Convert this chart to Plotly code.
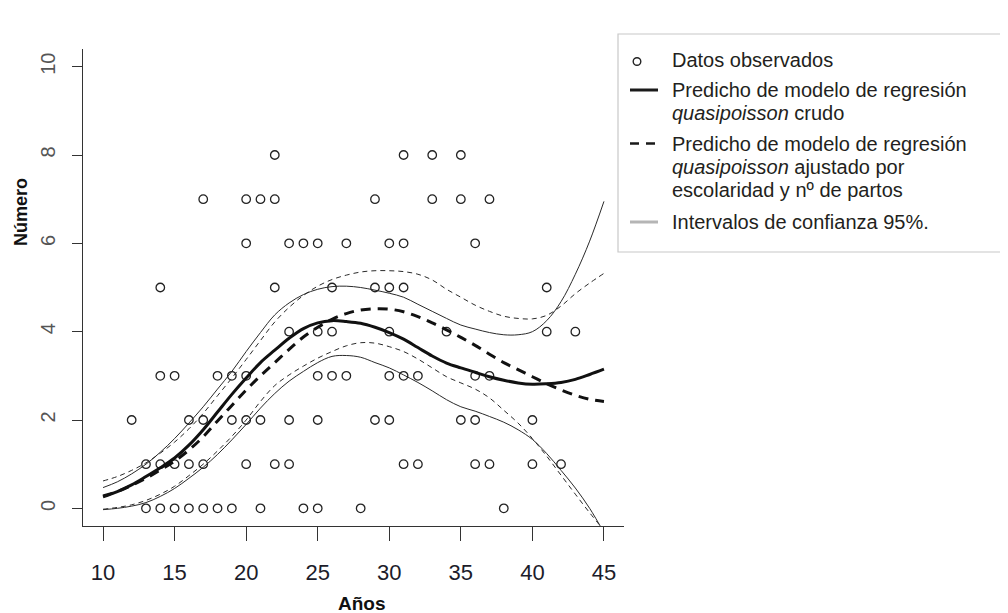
import plotly.graph_objects as go

# ---------------- data ----------------
edad_obs = [12, 13, 13, 14, 14, 14, 14, 15, 15, 15, 16, 16, 16, 17, 17, 17, 17,
            18, 18, 19, 19, 19, 20, 20, 20, 20, 20, 21, 21, 21, 22, 22, 22, 22,
            23, 23, 23, 23, 24, 24, 25, 25, 25, 25, 25, 26, 26, 26, 27, 27, 28,
            29, 29, 29, 30, 30, 30, 30, 30, 31, 31, 31, 31, 31, 32, 32, 33, 33,
            34, 35, 35, 35, 36, 36, 36, 36, 37, 37, 37, 38, 40, 40, 41, 41, 42, 43]
numero_obs = [2, 0, 1, 0, 1, 3, 5, 0, 1, 3, 0, 1, 2, 0, 1, 2, 7,
              0, 3, 0, 2, 3, 1, 2, 3, 6, 7, 0, 2, 7, 1, 5, 7, 8,
              1, 2, 4, 6, 0, 6, 0, 2, 3, 4, 6, 3, 4, 5, 3, 6, 0,
              2, 5, 7, 2, 3, 4, 5, 6, 1, 3, 5, 6, 8, 1, 3, 7, 8,
              4, 2, 7, 8, 1, 2, 3, 6, 1, 3, 7, 0, 1, 2, 4, 5, 1, 4]

edad_curva = list(range(10, 46))
pred_crudo = [0.26, 0.38, 0.53, 0.72, 0.92, 1.14, 1.43, 1.78, 2.18, 2.58,
              2.95, 3.30, 3.58, 3.85, 4.07, 4.20, 4.25, 4.23, 4.19, 4.10,
              3.98, 3.83, 3.64, 3.45, 3.29, 3.18, 3.08, 2.98, 2.90, 2.84,
              2.81, 2.82, 2.85, 2.92, 3.03, 3.15]
ic_crudo_sup = [0.47, 0.60, 0.78, 1.00, 1.27, 1.58, 1.93, 2.30, 2.70, 3.10,
                3.55, 3.98, 4.38, 4.65, 4.84, 4.96, 5.02, 5.03, 5.00, 4.94,
                4.87, 4.78, 4.62, 4.46, 4.30, 4.15, 4.06, 3.98, 3.93, 3.93,
                4.00, 4.25, 4.68, 5.30, 6.05, 6.95]
ic_crudo_inf = [-0.03, 0.00, 0.05, 0.13, 0.27, 0.45, 0.68, 0.93, 1.22, 1.55,
                1.90, 2.27, 2.60, 2.88, 3.10, 3.30, 3.44, 3.46, 3.42, 3.30,
                3.18, 3.02, 2.85, 2.66, 2.46, 2.30, 2.20, 2.08, 1.95, 1.78,
                1.56, 1.24, 0.86, 0.46, 0.00, -0.55]
pred_ajustado = [0.28, 0.38, 0.52, 0.68, 0.87, 1.07, 1.32, 1.62, 1.98, 2.33,
                 2.68, 3.00, 3.30, 3.60, 3.88, 4.10, 4.28, 4.41, 4.49, 4.52,
                 4.51, 4.45, 4.34, 4.20, 4.04, 3.87, 3.69, 3.49, 3.30, 3.14,
                 2.98, 2.82, 2.68, 2.56, 2.47, 2.42]
ic_ajust_sup = [0.62, 0.72, 0.86, 1.03, 1.25, 1.50, 1.80, 2.15, 2.55, 2.95,
                3.37, 3.80, 4.22, 4.55, 4.82, 5.03, 5.18, 5.28, 5.35, 5.38,
                5.38, 5.36, 5.30, 5.17, 4.96, 4.78, 4.60, 4.46, 4.35, 4.30,
                4.29, 4.37, 4.58, 4.86, 5.10, 5.32]
ic_ajust_inf = [-0.02, 0.02, 0.08, 0.18, 0.32, 0.50, 0.74, 1.00, 1.30, 1.63,
                2.00, 2.42, 2.78, 3.02, 3.22, 3.40, 3.55, 3.68, 3.75, 3.74,
                3.66, 3.55, 3.38, 3.18, 2.98, 2.84, 2.70, 2.50, 2.22, 1.93,
                1.58, 1.18, 0.75, 0.32, -0.10, -0.50]

x_ticks = [10, 15, 20, 25, 30, 35, 40, 45]
y_ticks = [0, 2, 4, 6, 8, 10]

leyenda_lineas = ["Datos observados",
                  "Predicho de modelo de regresión",
                  "<i>quasipoisson</i> crudo",
                  "Predicho de modelo de regresión",
                  "<i>quasipoisson</i> ajustado por",
                  "escolaridad y nº de partos",
                  "Intervalos de confianza 95%."]

# ---------------- geometry helpers (plot area in page pixels) ----------------
PL, PR, PT, PB = 83, 624, 49, 526          # plot area edges on the page
W_PLOT, H_PLOT = PR - PL, PB - PT


def px(xp):
    return (xp - PL) / W_PLOT


def py(yp):
    return (PB - yp) / H_PLOT


# ---------------- figure ----------------
fig = go.Figure()

thin = dict(color="#2a2a2a", width=1, shape="spline", smoothing=1)
fig.add_trace(go.Scatter(x=edad_curva, y=ic_crudo_sup, mode="lines", line=thin,
                         showlegend=False, hoverinfo="skip"))
fig.add_trace(go.Scatter(x=edad_curva, y=ic_crudo_inf, mode="lines", line=thin,
                         showlegend=False, hoverinfo="skip"))
fig.add_trace(go.Scatter(x=edad_curva, y=ic_ajust_sup, mode="lines",
                         line=dict(thin, dash="5px,4px"),
                         showlegend=False, hoverinfo="skip"))
fig.add_trace(go.Scatter(x=edad_curva, y=ic_ajust_inf, mode="lines",
                         line=dict(thin, dash="5px,4px"),
                         showlegend=False, hoverinfo="skip"))

fig.add_trace(go.Scatter(x=edad_obs, y=numero_obs, mode="markers",
                         name="Datos observados", showlegend=False,
                         marker=dict(symbol="circle-open", size=8.5, color="#222",
                                     line=dict(width=1.3, color="#222"))))
fig.add_trace(go.Scatter(x=edad_curva, y=pred_crudo, mode="lines", showlegend=False,
                         name="Predicho crudo",
                         line=dict(color="#111", width=3, shape="spline", smoothing=1)))
fig.add_trace(go.Scatter(x=edad_curva, y=pred_ajustado, mode="lines", showlegend=False,
                         name="Predicho ajustado",
                         line=dict(color="#111", width=3, shape="spline", smoothing=1,
                                   dash="10px,7px")))

# page has an 8px body margin: figure is drawn 8px right/down
OFF = 8
fig.update_layout(
    width=1008 - OFF, height=613 - OFF,
    margin=dict(l=PL - OFF, r=(1008 - OFF) - (PL - OFF) - W_PLOT,
                t=PT - OFF, b=(613 - OFF) - (PT - OFF) - H_PLOT),
    paper_bgcolor="white", plot_bgcolor="white",
    font=dict(family="Liberation Sans, Arial, sans-serif", color="#222"),
    showlegend=False,
    xaxis=dict(range=[8.6, 46.4], tickmode="array", tickvals=x_ticks,
               ticktext=[str(v) for v in x_ticks], automargin=False,
               showgrid=False, zeroline=False, showline=True, linecolor="#333",
               linewidth=1.3, ticks="outside", ticklen=14, tickwidth=1.3,
               tickcolor="#333", ticklabelstandoff=12,
               tickfont=dict(size=22, color="#1c1c2a",
                             family="Liberation Sans, Arial, sans-serif")),
    yaxis=dict(range=[-0.4, 10.4], tickmode="array", tickvals=y_ticks,
               ticktext=[str(v) for v in y_ticks], automargin=False,
               showgrid=False, zeroline=False, showline=True, linecolor="#333",
               linewidth=1.3, ticks="outside", ticklen=10, tickwidth=1.3,
               tickcolor="#333", tickangle=-90, ticklabelstandoff=9,
               tickfont=dict(size=20, color="#555",
                             family="Liberation Sans, Arial, sans-serif")),
)

# ---------------- legend (drawn as real text + symbols) ----------------
fig.add_shape(type="rect", xref="paper", yref="paper",
              x0=px(618), x1=px(1030), y0=py(252), y1=py(34),
              line=dict(color="#c8c8c8", width=1.2), fillcolor="rgba(0,0,0,0)",
              layer="below")

ys_lineas = [59.5, 90, 113, 143.5, 167, 190, 222]
for texto, yl in zip(leyenda_lineas, ys_lineas):
    fig.add_annotation(text=texto, xref="paper", yref="paper",
                       x=px(670), y=py(yl), xanchor="left", yanchor="middle",
                       showarrow=False,
                       font=dict(size=20, color="#231f20",
                                 family="Liberation Sans, Arial, sans-serif"))

# symbols
fig.add_shape(type="circle", xref="paper", yref="paper",
              xsizemode="pixel", ysizemode="pixel",
              xanchor=px(637), yanchor=py(61.5), x0=-3.8, x1=3.8, y0=-3.8, y1=3.8,
              line=dict(color="#222", width=1.4))
fig.add_shape(type="line", xref="paper", yref="paper",
              x0=px(630), x1=px(658), y0=py(90), y1=py(90),
              line=dict(color="#1a1a1a", width=3))
fig.add_shape(type="line", xref="paper", yref="paper",
              x0=px(630), x1=px(658), y0=py(143.5), y1=py(143.5),
              line=dict(color="#1a1a1a", width=2.6, dash="9px,7px"))
fig.add_shape(type="line", xref="paper", yref="paper",
              x0=px(630), x1=px(658), y0=py(222), y1=py(222),
              line=dict(color="#b5b5b5", width=3))

# axis titles
fig.add_annotation(text="<b>Años</b>", xref="paper", yref="paper",
                   x=px(362), y=py(603), xanchor="center", yanchor="middle",
                   showarrow=False, font=dict(size=19, color="#111"))
fig.add_annotation(text="<b>Número</b>", xref="paper", yref="paper",
                   x=px(21), y=py(212), xanchor="center", yanchor="middle",
                   textangle=-90, showarrow=False, font=dict(size=18, color="#111"))

fig.write_html("out.html")
